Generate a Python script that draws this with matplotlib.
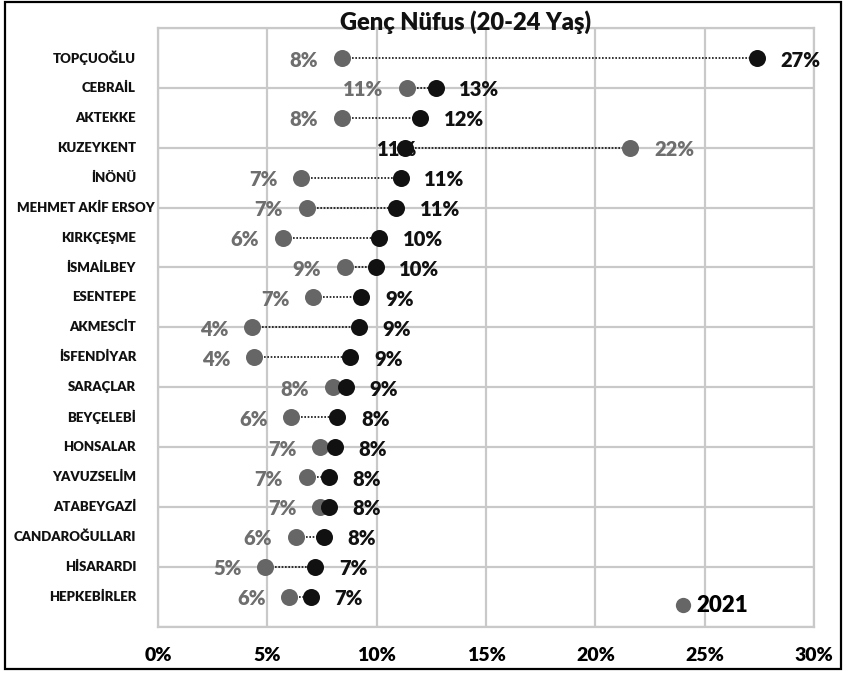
import matplotlib
matplotlib.use("Agg")
import matplotlib.pyplot as plt
from matplotlib.lines import Line2D
from matplotlib.patches import Rectangle
import matplotlib.transforms as mtransforms

plt.rcParams['font.family'] = ['Lato', 'DejaVu Sans']

title = "Genç Nüfus (20-24 Yaş)"
categories = ["TOPÇUOĞLU", "CEBRAİL", "AKTEKKE", "KUZEYKENT", "İNÖNÜ",
              "MEHMET AKİF ERSOY", "KIRKÇEŞME", "İSMAİLBEY", "ESENTEPE",
              "AKMESCİT", "İSFENDİYAR", "SARAÇLAR", "BEYÇELEBİ", "HONSALAR",
              "YAVUZSELİM", "ATABEYGAZİ", "CANDAROĞULLARI", "HİSARARDI",
              "HEPKEBİRLER"]
# gray series (legend: 2021)
values_2021 = [8.4, 11.4, 8.4, 21.6, 6.55, 6.8, 5.7, 8.55, 7.1, 4.3, 4.4,
               8.0, 6.1, 7.4, 6.8, 7.4, 6.3, 4.9, 6.0]
# black series
values_other = [27.4, 12.7, 12.0, 11.3, 11.1, 10.9, 10.1, 9.95, 9.3, 9.2,
                8.8, 8.6, 8.2, 8.1, 7.8, 7.8, 7.6, 7.2, 7.0]
x_ticks = [0, 5, 10, 15, 20, 25, 30]
x_tick_labels = ["0%", "5%", "10%", "15%", "20%", "25%", "30%"]
legend_label = "2021"

GRAY = "#666666"
GRAY_TXT = "#6e6e6e"
BLACK = "#111111"
GRID = "#c9c9c9"
WEIGHT = 'heavy'

fig = plt.figure(figsize=(8.44, 6.73), dpi=100)
W, H = 844, 673
ax = fig.add_axes([158 / W, 1 - 626.6 / H, (814 - 158) / W, (626.6 - 28) / H])

n = len(categories)
ys = list(range(n, 0, -1))

ax.set_xlim(0, 30)
ax.set_ylim(0, 20)
ax.set_xticks(x_ticks)
ax.set_xticklabels(x_tick_labels, fontsize=14, fontweight=WEIGHT)
ax.set_yticks(range(0, 21, 2))
ax.set_yticklabels([])
ax.tick_params(axis='both', length=0)
ax.tick_params(axis='x', pad=15)
ax.grid(True, color=GRID, linewidth=1.6)
ax.set_axisbelow(True)
for s in ax.spines.values():
    s.set_color(GRID)
    s.set_linewidth(1.6)

for y, g, b in zip(ys, values_2021, values_other):
    ax.plot([g, b], [y, y], color=BLACK, linestyle=(0, (1, 1)), linewidth=1.2, zorder=2)

ax.scatter(values_2021, ys, s=150, color=GRAY, zorder=4, linewidths=0)
ax.scatter(values_other, ys, s=150, color=BLACK, zorder=5, linewidths=0)

LBL = 14.5
for y, g, b in zip(ys, values_2021, values_other):
    if b >= g:
        ax.annotate(f"{round(g)}%", (g, y), xytext=(-17, -1.5), textcoords='offset points',
                    ha='right', va='center', fontsize=LBL, fontweight=WEIGHT,
                    color=GRAY_TXT, zorder=3)
        ax.annotate(f"{round(b)}%", (b, y), xytext=(17, -1.5), textcoords='offset points',
                    ha='left', va='center', fontsize=LBL, fontweight=WEIGHT,
                    color=BLACK, zorder=3)
    else:
        ax.annotate(f"{round(g)}%", (g, y), xytext=(17, -1.5), textcoords='offset points',
                    ha='left', va='center', fontsize=LBL, fontweight=WEIGHT,
                    color=GRAY_TXT, zorder=3)
        ax.annotate(f"{round(b)}%", (b, y), xytext=(9, -1.5), textcoords='offset points',
                    ha='right', va='center', fontsize=LBL, fontweight=WEIGHT,
                    color=BLACK, zorder=3)

# category labels
trans = mtransforms.blended_transform_factory(fig.transFigure, ax.transData)
for y, c in zip(ys, categories):
    xr = 136 if len(c) < 16 else 155
    ax.text(xr / W, y, c, transform=trans, ha='right', va='center',
            fontsize=9.5, fontweight=WEIGHT, color=BLACK)

# legend
handle = Line2D([], [], marker='o', linestyle='none', color=GRAY, markersize=11,
                markeredgewidth=0)
leg = ax.legend([handle], [legend_label], loc='center left',
                bbox_to_anchor=((670 - 158) / 656, 0.0345), frameon=False,
                handletextpad=0.0, handlelength=1.2, borderpad=0, borderaxespad=0,
                prop={'weight': WEIGHT, 'size': 16})

fig.text(466 / W, 1 - 29.5 / H, title, ha='center', va='baseline',
         fontsize=17, fontweight=WEIGHT, color=BLACK)

fig.add_artist(Rectangle((5 / W, 1 - 669 / H), (841 - 5) / W, (669 - 2) / H,
                         transform=fig.transFigure, fill=False,
                         edgecolor='black', linewidth=1.6))

fig.savefig("out.png", dpi=100)
